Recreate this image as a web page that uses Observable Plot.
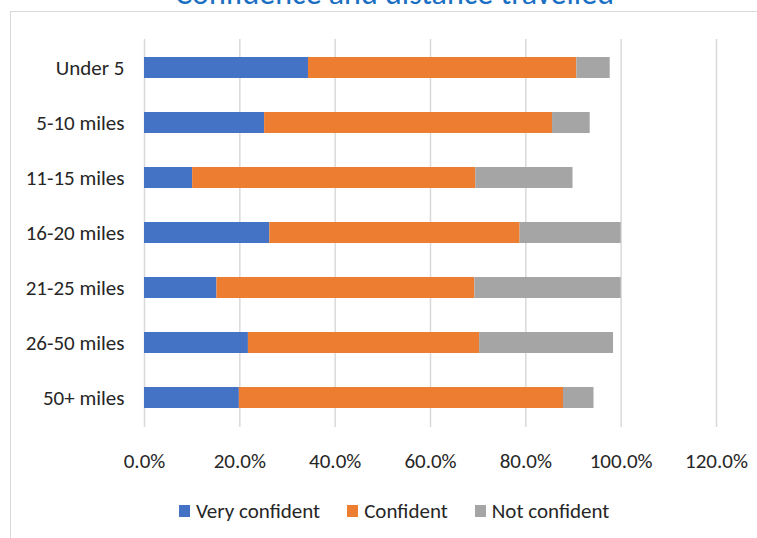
<!DOCTYPE html>
<html>
<head>
<meta charset="utf-8">
<script src="https://cdn.jsdelivr.net/npm/d3@7"></script>
<script src="https://cdn.jsdelivr.net/npm/@observablehq/plot@0.6"></script>
<style>
  html, body { margin: 0; padding: 0; background: #fff; }
  body { width: 757px; height: 538px; overflow: hidden; position: relative; font-family: Calibri, Carlito, Roboto, sans-serif; color: #262626; }
  #frame { position: absolute; left: 10px; top: 11px; width: 820px; height: 620px; border: 1.5px solid #d9d9d9; box-sizing: border-box; }
  #title { position: absolute; left: 0; width: 789px; top: -22px; text-align: center; font-size: 32px; line-height: 32px; color: #1a6fc2; white-space: nowrap; }
  #chart { position: absolute; left: 0; top: 0; }
  #legend { position: absolute; left: 179px; top: 499px; display: flex; align-items: center; font-size: 21px; line-height: 24px; white-space: nowrap; }
  .item { display: flex; align-items: center; margin-right: 27px; }
  .sw { width: 11px; height: 12px; margin-right: 6px; }
</style>
</head>
<body>
<div id="frame"></div>
<div id="title">Confidence and distance travelled</div>
<div id="chart"></div>
<div id="legend"></div>
<script>
const categories = ["Under 5", "5-10 miles", "11-15 miles", "16-20 miles", "21-25 miles", "26-50 miles", "50+ miles"];
const seriesNames = ["Very confident", "Confident", "Not confident"];
const seriesColors = ["#4472C4", "#ED7D31", "#A5A5A5"];
const veryConfident = [34.4, 25.2, 10.1, 26.3, 15.2, 21.8, 19.9];
const confident = [56.3, 60.4, 59.4, 52.5, 54.1, 48.5, 68.0];
const notConfident = [7.0, 7.9, 20.4, 21.2, 30.7, 28.1, 6.4];
const xTicks = [0, 20, 40, 60, 80, 100, 120];

const seriesValues = [veryConfident, confident, notConfident];
const data = [];
seriesNames.forEach((s, si) => {
  categories.forEach((c, ci) => {
    data.push({category: c, series: s, value: seriesValues[si][ci]});
  });
});

const font = "Calibri, Carlito, Roboto, sans-serif";
const chart = Plot.plot({
  width: 757,
  height: 538,
  marginLeft: 144,
  marginRight: 41,
  marginTop: 39,
  marginBottom: 111,
  style: { fontFamily: font, fontSize: "21px", color: "#262626", background: "transparent" },
  x: { domain: [0, 120], ticks: xTicks },
  y: { domain: categories, paddingInner: 0.61, paddingOuter: 0.305 },
  color: { domain: seriesNames, range: seriesColors },
  marks: [
    Plot.gridX(xTicks, { stroke: "#d9d9d9", strokeOpacity: 1, strokeWidth: 1.5 }),
    Plot.barX(data, { y: "category", x: "value", fill: "series" }),
    Plot.axisX({ ticks: xTicks, tickSize: 0, tickPadding: 26, tickFormat: d => d.toFixed(1) + "%", fontSize: 21, fill: "#262626", label: null }),
    Plot.axisY({ tickSize: 0, tickPadding: 20, fontSize: 21, fill: "#262626", label: null })
  ]
});
document.getElementById("chart").appendChild(chart);

const legend = document.getElementById("legend");
seriesNames.forEach((s, i) => {
  const item = document.createElement("div");
  item.className = "item";
  const sw = document.createElement("div");
  sw.className = "sw";
  sw.style.background = seriesColors[i];
  const t = document.createElement("span");
  t.textContent = s;
  item.appendChild(sw);
  item.appendChild(t);
  legend.appendChild(item);
});
</script>
</body>
</html>
